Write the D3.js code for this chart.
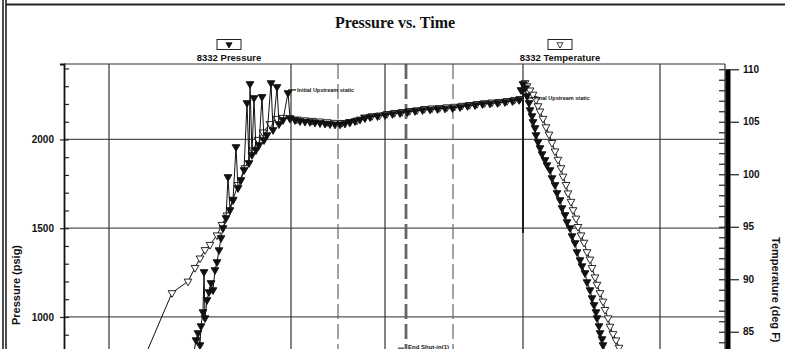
<!DOCTYPE html>
<html>
<head>
<meta charset="utf-8">
<script src="https://cdn.jsdelivr.net/npm/d3@7"></script>
<style>
  html, body { margin: 0; padding: 0; background: #fff; }
  svg { display: block; }
</style>
</head>
<body>
<svg id="chart" width="785" height="349"></svg>
<script>
// ---- Gauge 8332 data: [elapsed minutes, value] ----
// Pressure (psig) while running in, with surge spikes at pipe connections
const pressureRunIn = [
  [252, 645], [260, 803], [264, 870], [268, 910], [272, 842], [274, 949], [278, 1028],
  [280, 1254], [282, 994], [286, 1096], [290, 1141], [294, 1192], [298, 1152], [302, 1265],
  [306, 1310], [310, 1377], [314, 1445], [318, 1501], [324, 1558], [328, 1789], [332, 1603],
  [338, 1659], [344, 1958], [348, 1727], [354, 1772], [360, 1828], [366, 2206], [370, 1868],
  [372, 2313], [376, 1913], [380, 2234], [384, 1941], [390, 1969], [396, 2240], [400, 1997],
  [406, 2025], [414, 2318], [418, 2054], [426, 2296], [430, 2087], [438, 2110], [448, 2262],
  [452, 2121]
];
// Pressure on bottom
const pressureOnBottom = [
  [462, 2110], [472, 2104], [482, 2101], [492, 2099], [502, 2096], [512, 2093], [522, 2090],
  [532, 2087], [542, 2085], [552, 2085], [562, 2090], [572, 2097], [582, 2104], [592, 2113],
  [602, 2121], [612, 2127], [627, 2132], [642, 2138], [657, 2144], [672, 2149], [687, 2155],
  [702, 2161], [717, 2166], [732, 2169], [747, 2172], [762, 2175], [777, 2177], [792, 2183],
  [807, 2189], [822, 2194], [837, 2200], [852, 2203], [867, 2206], [882, 2211], [897, 2217],
  [910, 2223]
];
// Pressure while pulling out
const pressurePullOut = [
  [914, 2279], [918, 2313], [922, 2290], [926, 2245], [930, 2206], [932, 2166], [936, 2132],
  [938, 2099], [942, 2065], [944, 2025], [948, 1986], [952, 1952], [956, 1918], [962, 1885],
  [966, 1856], [972, 1828], [976, 1783], [982, 1744], [986, 1699], [992, 1659], [996, 1614],
  [1002, 1575], [1006, 1535], [1012, 1501], [1016, 1456], [1022, 1417], [1026, 1366],
  [1032, 1321], [1036, 1287], [1042, 1248], [1046, 1197], [1052, 1152], [1056, 1107],
  [1060, 1068], [1064, 1028], [1066, 994], [1070, 949], [1072, 910], [1076, 876], [1078, 842],
  [1082, 803], [1086, 746], [1096, 617]
];

// Temperature (deg F)
const temperatureRunIn = [
  [112, 77.1], [216, 88.7], [248, 89.8], [262, 91.1], [272, 92.0], [282, 92.8], [292, 93.3],
  [306, 94.2], [316, 95.2], [326, 96.1], [338, 97.6], [348, 99.0], [362, 100.6], [378, 102.3],
  [388, 103.3], [398, 104.0], [412, 104.8], [426, 105.3], [438, 105.4], [452, 105.3]
];
const temperatureOnBottom = [
  [466, 105.24], [481, 105.16], [496, 105.11], [511, 105.05], [526, 104.98], [541, 104.92],
  [556, 104.91], [571, 105.00], [586, 105.14], [601, 105.43], [616, 105.55], [631, 105.62],
  [646, 105.76], [661, 105.86], [676, 105.95], [691, 106.05], [706, 106.12], [721, 106.24],
  [736, 106.29], [751, 106.33], [766, 106.40], [781, 106.45], [796, 106.54], [811, 106.62],
  [826, 106.71], [841, 106.79], [856, 106.86], [871, 106.91], [886, 107.00], [901, 107.10],
  [912, 107.19]
];
const temperaturePullOut = [
  [922, 108.7], [926, 108.4], [932, 108.0], [938, 107.6], [944, 107.1], [948, 106.5],
  [952, 106.0], [958, 105.3], [964, 104.5], [970, 103.8], [976, 103.0], [982, 102.2],
  [988, 101.4], [994, 100.6], [998, 99.8], [1004, 99.0], [1008, 98.2], [1014, 97.4],
  [1018, 96.6], [1024, 95.8], [1028, 95.0], [1034, 94.2], [1040, 93.5], [1046, 92.6],
  [1052, 91.9], [1056, 91.1], [1062, 90.2], [1066, 89.5], [1072, 88.7], [1078, 87.9],
  [1082, 87.1], [1088, 86.3], [1092, 85.5], [1098, 84.8], [1104, 84.2], [1110, 83.5],
  [1116, 82.9], [1124, 82.1], [1136, 80.9]
];

// Axis ticks
const pressureTicks = [1000, 1500, 2000];
const temperatureTicks = [85, 90, 95, 100, 105, 110];

// Time gridlines (solid) and operation markers (dashed), minutes
const gridTimes = [90, 454, 642, 918, 1192];
const eventTimes = [548, 778];
const shutInTimes = [684];
// Pull-out marker on the pressure scale
const pullOutSpan = [[918, 2290], [918, 1473]];

// Annotations: [minutes, psig, text]
const notes = [
  [448, 2279, "Initial Upstream static"],
  [922, 2234, "Final Upstream static"]
];
const shutInNote = [684, 830, "End Shut-in(1)"];

// ---- Layout ----
const svg = d3.select("#chart");
const plotL = 64, plotR = 725, plotT = 64, plotB = 494.5;

const x = d3.scaleLinear().domain([0, 1322]).range([plotL, plotR]);
const yP = d3.scaleLinear().domain([0, 2425]).range([plotB, plotT]);
const yT = d3.scaleLinear().domain([69.5, 110.5]).range([plotB, plotT]);

// Page frame
svg.append("line").attr("x1", 3).attr("x2", 3).attr("y1", 0).attr("y2", 349)
  .attr("stroke", "#222").attr("stroke-width", 1.6);
svg.append("line").attr("x1", 6).attr("x2", 6).attr("y1", 0).attr("y2", 349)
  .attr("stroke", "#222").attr("stroke-width", 1.6);
svg.append("line").attr("x1", 6).attr("x2", 785).attr("y1", 4.5).attr("y2", 4.5)
  .attr("stroke", "#222").attr("stroke-width", 1.8);

// Title
svg.append("text").attr("x", 395).attr("y", 28).attr("text-anchor", "middle")
  .attr("font-family", "Liberation Serif, Times New Roman, serif")
  .attr("font-weight", "bold").attr("font-size", 16).attr("fill", "#111")
  .text("Pressure vs. Time");

// Legend
const legendItems = [
  { cx: 229, label: "8332 Pressure", filled: true },
  { cx: 560, label: "8332 Temperature", filled: false }
];
const tri = d3.symbol().type(d3.symbolTriangle);
legendItems.forEach(d => {
  const g = svg.append("g");
  g.append("rect").attr("x", d.cx - 12).attr("y", 39.5).attr("width", 24).attr("height", 10)
    .attr("fill", "#fff").attr("stroke", "#222").attr("stroke-width", 1);
  g.append("path").attr("d", tri.size(16)())
    .attr("transform", `translate(${d.cx},44.5) rotate(180)`)
    .attr("fill", d.filled ? "#111" : "#fff").attr("stroke", "#111").attr("stroke-width", 0.8);
  g.append("text").attr("x", d.cx).attr("y", 61).attr("text-anchor", "middle")
    .attr("font-family", "Liberation Sans, Arial, sans-serif")
    .attr("font-weight", "bold").attr("font-size", 9.5).attr("fill", "#111")
    .text(d.label);
});

// Clip for the plotting area
svg.append("clipPath").attr("id", "plotClip")
  .append("rect").attr("x", plotL).attr("y", plotT).attr("width", plotR - plotL).attr("height", plotB - plotT);

const plot = svg.append("g").attr("clip-path", "url(#plotClip)");

// Horizontal gridlines
plot.selectAll("line.hgrid").data(pressureTicks).join("line").attr("class", "hgrid")
  .attr("x1", plotL).attr("x2", plotR)
  .attr("y1", d => yP(d)).attr("y2", d => yP(d))
  .attr("stroke", "#555").attr("stroke-width", 1.2);

// Vertical time gridlines
plot.selectAll("line.vgrid").data(gridTimes).join("line").attr("class", "vgrid")
  .attr("x1", d => x(d)).attr("x2", d => x(d))
  .attr("y1", plotT).attr("y2", plotB)
  .attr("stroke", "#333").attr("stroke-width", 1.2);

// Dashed operation markers
plot.selectAll("line.event").data(eventTimes).join("line").attr("class", "event")
  .attr("x1", d => x(d)).attr("x2", d => x(d))
  .attr("y1", plotT).attr("y2", plotB)
  .attr("stroke", "#666").attr("stroke-width", 1.2).attr("stroke-dasharray", "15,5");
plot.selectAll("line.shutin").data(shutInTimes).join("line").attr("class", "shutin")
  .attr("x1", d => x(d)).attr("x2", d => x(d))
  .attr("y1", plotT).attr("y2", plotB)
  .attr("stroke", "#666").attr("stroke-width", 2.8).attr("stroke-dasharray", "15,5");

// Pull-out marker
plot.append("path").datum(pullOutSpan)
  .attr("d", d3.line().x(d => x(d[0])).y(d => yP(d[1])))
  .attr("stroke", "#111").attr("stroke-width", 1.8);

// Series drawing
function drawSeries(data, yScale, filled) {
  const g = plot.append("g");
  g.append("path").datum(data)
    .attr("fill", "none").attr("stroke", "#111").attr("stroke-width", 1)
    .attr("d", d3.line().x(d => x(d[0])).y(d => yScale(d[1])));
  g.selectAll("path.mk").data(data).join("path").attr("class", "mk")
    .attr("d", tri.size(26)())
    .attr("transform", d => `translate(${x(d[0])},${yScale(d[1])}) rotate(180)`)
    .attr("fill", filled ? "#111" : "#fff")
    .attr("stroke", "#111").attr("stroke-width", 0.9);
}
[temperatureRunIn, temperatureOnBottom, temperaturePullOut].forEach(s => drawSeries(s, yT, false));
[pressureRunIn, pressureOnBottom, pressurePullOut].forEach(s => drawSeries(s, yP, true));

// Annotations
notes.forEach(n => {
  const px = x(n[0]), py = yP(n[1]);
  svg.append("line").attr("x1", px).attr("x2", px + 8).attr("y1", py).attr("y2", py)
    .attr("stroke", "#111").attr("stroke-width", 1.2);
  svg.append("text").attr("x", px + 9).attr("y", py + 2)
    .attr("font-family", "Liberation Sans, Arial, sans-serif")
    .attr("font-weight", "bold").attr("font-size", 5.5).attr("fill", "#111")
    .text(n[2]);
});
svg.append("line").attr("x1", x(shutInNote[0]) - 8).attr("x2", x(shutInNote[0]) - 2)
  .attr("y1", yP(shutInNote[1]) + 1).attr("y2", yP(shutInNote[1]) + 1)
  .attr("stroke", "#111").attr("stroke-width", 1);
svg.append("text").attr("x", x(shutInNote[0]) + 2).attr("y", yP(shutInNote[1]) + 2)
  .attr("font-family", "Liberation Sans, Arial, sans-serif")
  .attr("font-weight", "bold").attr("font-size", 6).attr("fill", "#111")
  .text(shutInNote[2]);

// Plot frame (top and right edge)
svg.append("line").attr("x1", plotL).attr("x2", plotR).attr("y1", plotT).attr("y2", plotT)
  .attr("stroke", "#333").attr("stroke-width", 1.2);
svg.append("line").attr("x1", plotR).attr("x2", plotR).attr("y1", plotT).attr("y2", plotB)
  .attr("stroke", "#333").attr("stroke-width", 1.2);

// Left pressure axis
const minorP = d3.range(0, 2500, 100);
svg.append("g").attr("transform", `translate(${plotL},0)`)
  .call(d3.axisRight(yP).tickValues(minorP).tickSize(5).tickFormat(""))
  .call(g => g.select(".domain").remove())
  .call(g => g.selectAll("line").attr("stroke", "#222").attr("stroke-width", 1.2));
const axL = svg.append("g").attr("transform", `translate(${plotL},0)`)
  .call(d3.axisLeft(yP).tickValues(pressureTicks).tickSize(4).tickPadding(6).tickFormat(d3.format("d")));
axL.select(".domain").attr("stroke", "#111").attr("stroke-width", 1.8);
axL.selectAll("line").attr("stroke", "#222").attr("stroke-width", 1.2);
axL.selectAll("text").attr("font-family", "Liberation Sans, Arial, sans-serif")
  .attr("font-weight", "bold").attr("font-size", 10).attr("fill", "#111");

svg.append("text")
  .attr("transform", "translate(20,285) rotate(-90)")
  .attr("text-anchor", "middle")
  .attr("font-family", "Liberation Sans, Arial, sans-serif")
  .attr("font-weight", "bold").attr("font-size", 11).attr("fill", "#111")
  .text("Pressure (psig)");

// Right temperature axis: heavy spine with minor and major ticks
svg.append("line").attr("x1", plotR + 3).attr("x2", plotR + 3)
  .attr("y1", yT(110)).attr("y2", plotB)
  .attr("stroke", "#000").attr("stroke-width", 5);
const minorT = d3.range(70, 111, 1);
svg.append("g").attr("transform", `translate(${plotR},0)`)
  .call(d3.axisLeft(yT).tickValues(minorT).tickSize(6).tickFormat(""))
  .call(g => g.select(".domain").remove())
  .call(g => g.selectAll("line").attr("stroke", "#222").attr("stroke-width", 1.2));
const axR = svg.append("g").attr("transform", `translate(${plotR + 5},0)`)
  .call(d3.axisRight(yT).tickValues(temperatureTicks).tickSize(9).tickPadding(4).tickFormat(d3.format("d")));
axR.select(".domain").remove();
axR.selectAll("line").attr("stroke", "#222").attr("stroke-width", 1.2);
axR.selectAll("text").attr("font-family", "Liberation Sans, Arial, sans-serif")
  .attr("font-weight", "bold").attr("font-size", 10).attr("fill", "#111");

svg.append("text")
  .attr("transform", "translate(772,237) rotate(90)")
  .attr("text-anchor", "start")
  .attr("font-family", "Liberation Sans, Arial, sans-serif")
  .attr("font-weight", "bold").attr("font-size", 11).attr("fill", "#111")
  .text("Temperature (deg F)");
</script>
</body>
</html>
